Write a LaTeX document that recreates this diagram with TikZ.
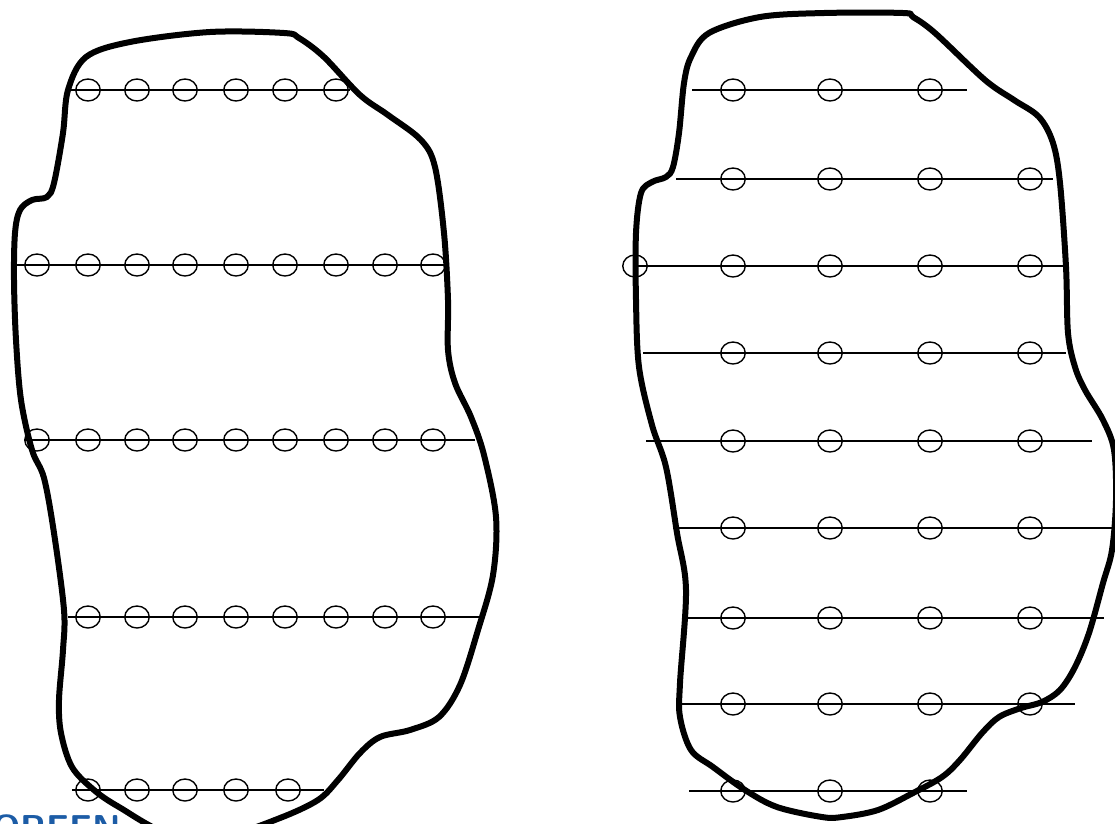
\documentclass[tikz,border=0pt]{standalone}
\usetikzlibrary{shapes.geometric}
\definecolor{markblue}{RGB}{28,92,166}
\begin{document}
\begin{tikzpicture}[
    x=1pt, y=-1pt,
    blob/.style={line width=6pt, line join=round},
    hole/.style={ellipse, draw=black, line width=1.4pt, minimum width=24.5pt, minimum height=22pt, inner sep=0pt},
    wire/.style={line width=1.8pt},
    wmark/.style={anchor=north west, inner sep=0pt, font=\sffamily\bfseries\fontsize{36}{36}\selectfont, text=markblue},
]
\useasboundingbox (0,0) rectangle (1115,823);
\clip (0,0) rectangle (1115,823);

% left region: dense rows
\foreach \y/\xa/\xb/\cols [count=\r] in {
    90/68/350/{88,137,185,236,285,336},
    265/17/445/{37,88,137,185,236,285,336,385,433},
    440/25/475/{37,88,137,185,236,285,336,385,433},
    617/68/484/{88,137,185,236,285,336,385,433},
    790/72/324/{88,137,185,236,288}} {
  \coordinate (Ls\r) at (\xa,\y);
  \coordinate (Le\r) at (\xb,\y);
  \draw[wire] (Ls\r) -- (Le\r);
  \foreach \x [count=\i] in \cols
    \node[hole] (L\r-\i) at (\x,\y) {};
}

% right region: sparse rows
\foreach \y/\xa/\xb/\cols [count=\r] in {
    90/692/967/{733,830,930},
    179/676/1053/{733,830,930,1030},
    266/635/1064/{635,733,830,930,1030},
    353/643/1066/{733,830,930,1030},
    441/646/1092/{733,830,930,1030},
    528/673/1116/{733,830,930,1030},
    618/687/1104/{733,830,930,1030},
    704/682/1075/{733,830,930,1030},
    791/689/967/{733,830,930}} {
  \coordinate (Rs\r) at (\xa,\y);
  \coordinate (Re\r) at (\xb,\y);
  \draw[wire] (Rs\r) -- (Re\r);
  \foreach \x [count=\i] in \cols
    \node[hole] (R\r-\i) at (\x,\y) {};
}

% outlines
\draw[blob] plot[smooth cycle, tension=0.55] coordinates {
  (210,32) (284,33) (299,38) (324,57) (360,95) (388,115) (421,140) (435,167)
  (444,233) (448,300) (448,350) (455,383) (471,417) (484,455) (496,517)
  (493,575) (478,630) (460,685) (439,717) (410,730) (380,737) (360,753)
  (338,780) (318,800) (280,818) (230,834) (170,834) (119,807) (94,790)
  (72,767) (61,733) (59,700) (63,650) (64,610) (54,533) (44,478)
  (32,450) (21,400) (16,340) (14,280) (15,233) (20,210) (32,200) (47,197) (54,183)
  (63,133) (68,90) (86,57) (130,42)};
\draw[blob] plot[smooth cycle, tension=0.55] coordinates {
  (824,13) (903,13) (913,17) (935,33) (985,80) (1014,100) (1039,117)
  (1053,143) (1060,183) (1066,267) (1068,333) (1075,367) (1085,390)
  (1103,420) (1114,450) (1116,500) (1112,550) (1103,583) (1089,633)
  (1075,667) (1060,690) (1042,702) (1021,708) (999,717) (982,733)
  (960,760) (942,777) (913,793) (878,810) (842,817) (822,817) (777,807)
  (745,790) (713,767) (691,750) (680,717) (680,683) (686,590) (677,533)
  (666,467) (652,425) (639,367) (636,300) (636,233) (641,193) (652,182)
  (666,177) (673,167) (679,133) (684,83) (691,57) (709,33) (760,17)};

% cut-off mark at the bottom edge
\node[wmark] (mark) at (-8,815) {OPEEN};
\end{tikzpicture}
\end{document}
